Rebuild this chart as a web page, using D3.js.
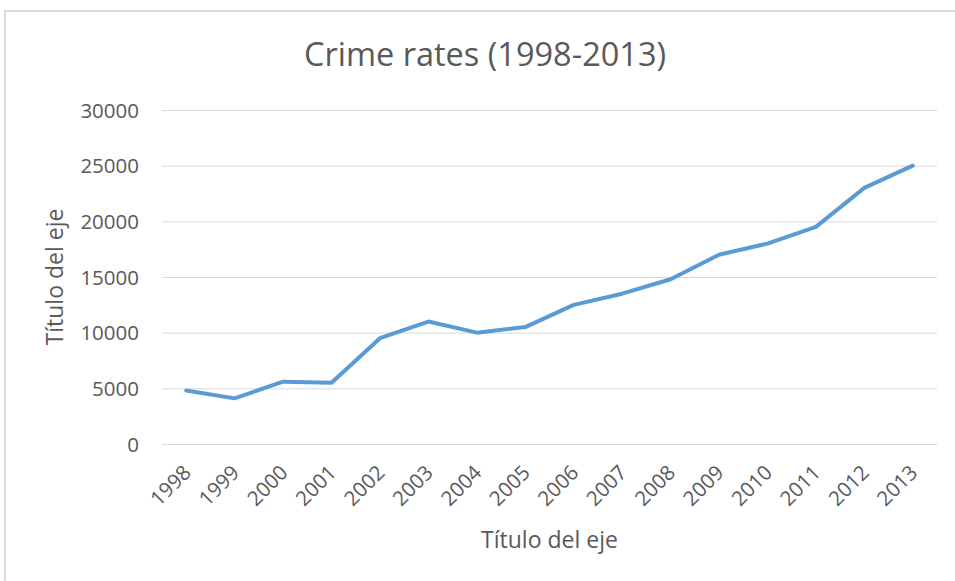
<!DOCTYPE html>
<html>
<head>
<meta charset="utf-8">
<script src="https://cdn.jsdelivr.net/npm/d3@7"></script>
<style>
  html, body { margin: 0; padding: 0; background: #ffffff; }
  svg { display: block; }
  text { font-family: "Open Sans", "Noto Sans", sans-serif; }
</style>
</head>
<body>
<svg id="chart" width="955" height="581"></svg>
<script>
const chartTitle = "Crime rates (1998-2013)";
const xAxisTitle = "Título del eje";
const yAxisTitle = "Título del eje";
const years = ["1998","1999","2000","2001","2002","2003","2004","2005","2006","2007","2008","2009","2010","2011","2012","2013"];
const crimes = [4800, 4100, 5600, 5500, 9500, 11000, 10000, 10500, 12500, 13500, 14800, 17000, 18000, 19500, 23000, 25000];
const yTicks = [0, 5000, 10000, 15000, 20000, 25000, 30000];

const svg = d3.select("#chart");
const W = 955, H = 581;
const plot = { left: 162, right: 937, top: 110, bottom: 444 };

// chart frame
svg.append("rect")
  .attr("x", 5).attr("y", 11)
  .attr("width", W + 20).attr("height", H + 20)
  .attr("fill", "#ffffff")
  .attr("stroke", "#d9d9d9").attr("stroke-width", 2);

const x = d3.scaleBand().domain(years).range([plot.left, plot.right]);
const y = d3.scaleLinear().domain([0, 30000]).range([plot.bottom, plot.top]);

// gridlines
const gy = svg.append("g")
  .attr("transform", `translate(${plot.left},0)`)
  .call(d3.axisLeft(y).tickValues(yTicks).tickSize(-(plot.right - plot.left)).tickFormat(""));
gy.select(".domain").remove();
gy.selectAll(".tick line").attr("stroke", "#d9d9d9").attr("stroke-width", 1);

// y tick labels
const yl = svg.append("g")
  .attr("transform", `translate(${plot.left - 23},0)`)
  .call(d3.axisLeft(y).tickValues(yTicks).tickSize(0).tickPadding(0).tickFormat(d => String(d)));
yl.select(".domain").remove();
yl.selectAll(".tick text")
  .attr("fill", "#595959")
  .style("font-size", "20.5px")
  .attr("dy", "0.35em");

// x tick labels
const xl = svg.append("g")
  .attr("transform", `translate(0,${plot.bottom})`)
  .call(d3.axisBottom(x).tickSize(0).tickPadding(0));
xl.select(".domain").remove();
xl.selectAll(".tick text")
  .attr("fill", "#595959")
  .style("font-size", "20.5px")
  .attr("text-anchor", "end")
  .attr("y", 0).attr("dy", 0)
  .attr("transform", "translate(6,30) rotate(-45)");

// line
const line = d3.line()
  .x((d, i) => x(years[i]) + x.bandwidth() / 2)
  .y(d => y(d));
svg.append("path")
  .datum(crimes)
  .attr("d", line)
  .attr("fill", "none")
  .attr("stroke", "#5b9bd5")
  .attr("stroke-width", 4)
  .attr("stroke-linejoin", "round")
  .attr("stroke-linecap", "round");

// titles
svg.append("text")
  .attr("x", 485).attr("y", 66)
  .attr("text-anchor", "middle")
  .attr("fill", "#595959")
  .style("font-size", "32.5px")
  .text(chartTitle);

svg.append("text")
  .attr("x", (plot.left + plot.right) / 2).attr("y", 548)
  .attr("text-anchor", "middle")
  .attr("fill", "#595959")
  .style("font-size", "23px")
  .text(xAxisTitle);

svg.append("text")
  .attr("transform", `translate(63,${(plot.top + plot.bottom) / 2}) rotate(-90)`)
  .attr("text-anchor", "middle")
  .attr("fill", "#595959")
  .style("font-size", "23px")
  .text(yAxisTitle);
</script>
</body>
</html>
